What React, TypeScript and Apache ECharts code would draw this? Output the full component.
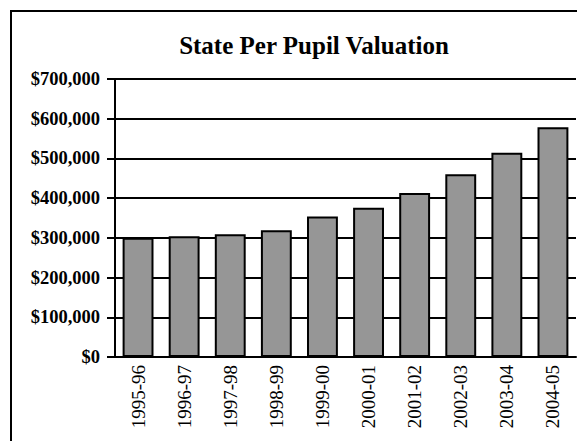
import React, { useEffect, useRef } from "react";
import * as echarts from "echarts";

const categories = ["1995-96", "1996-97", "1997-98", "1998-99", "1999-00", "2000-01", "2001-02", "2002-03", "2003-04", "2004-05"];
const valuations = [300500, 304000, 309000, 319000, 353500, 376000, 413000, 460000, 514000, 578500];
const titleText = "State Per Pupil Valuation";

const fmt = (v: number) => "$" + String(v).replace(/\B(?=(\d{3})+(?!\d))/g, ",");

export default function App() {
  const ref = useRef<HTMLDivElement>(null);
  useEffect(() => {
    if (!ref.current) return;
    const chart = echarts.init(ref.current, null, { renderer: "svg" });
    const font = "'Liberation Serif', 'Times New Roman', serif";
    chart.setOption({
      animation: false,
      backgroundColor: "#ffffff",
      title: {
        text: titleText,
        left: 309,
        textAlign: "center",
        top: 28,
        textStyle: { fontFamily: font, fontSize: 25, fontWeight: "bold", color: "#000" },
      },
      graphic: [
        {
          type: "rect",
          shape: { x: 11, y: 11, width: 620, height: 500 },
          style: { fill: "none", stroke: "#000", lineWidth: 2 },
          z: 100,
        },
      ],
      grid: { left: 115, right: 1, top: 79, bottom: 84 },
      xAxis: {
        type: "category",
        data: categories,
        axisLine: { lineStyle: { color: "#000", width: 2 } },
        axisTick: { length: 8, lineStyle: { color: "#000", width: 2 } },
        axisLabel: { rotate: 90, margin: 8, fontFamily: font, fontSize: 19, color: "#000" },
      },
      yAxis: {
        type: "value",
        min: 0,
        max: 700000,
        interval: 100000,
        axisLine: { show: true, lineStyle: { color: "#000", width: 2 } },
        axisTick: { show: true, length: 8, lineStyle: { color: "#000", width: 2 } },
        splitLine: { show: true, lineStyle: { color: "#000", width: 2 } },
        axisLabel: { margin: 15, fontFamily: font, fontSize: 18.5, fontWeight: "bold", color: "#000", formatter: (v: number) => fmt(v) },
      },
      series: [
        {
          type: "bar",
          data: valuations,
          barCategoryGap: "33%",
          itemStyle: { color: "#969696", borderColor: "#000", borderWidth: 2 },
        },
      ],
    });
    return () => chart.dispose();
  }, []);
  return <div ref={ref} style={{ position: "fixed", left: 0, top: 0, width: 577, height: 441 }} />;
}
